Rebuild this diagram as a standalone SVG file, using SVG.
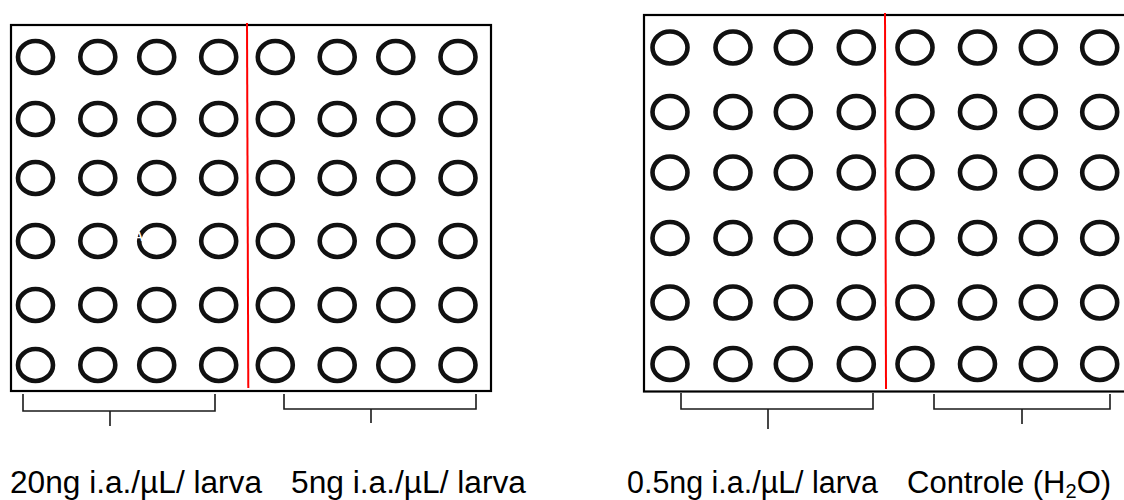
<svg xmlns="http://www.w3.org/2000/svg" xmlns:xlink="http://www.w3.org/1999/xlink" width="1124" height="500" viewBox="0 0 1124 500">
  <style>
    .plate { fill: #ffffff; stroke: #000000; stroke-width: 2.2; }
    .divider { stroke: #ff0000; stroke-width: 2; fill: none; }
    .well { fill: none; stroke: #111111; stroke-width: 4.6; }
    .bracket { fill: none; stroke: #1a1a1a; stroke-width: 1.6; }
    .label { font-family: "Liberation Sans", Arial, sans-serif; font-size: 31px; fill: #000000; }
  </style>
  <defs>
    <ellipse id="well" class="well" cx="0" cy="0" rx="17.5" ry="16"/>
  </defs>

  <rect width="1124" height="500" fill="#ffffff"/>

  <!-- Left plate: 20 ng | 5 ng -->
  <g id="plate-left">
    <rect class="plate" x="11" y="25" width="480" height="366"/>
    <g id="wells-left">
      <!-- row 1 -->
      <use xlink:href="#well" x="35.5" y="57"/><use xlink:href="#well" x="97.8" y="57"/><use xlink:href="#well" x="156.7" y="57"/><use xlink:href="#well" x="218.7" y="57"/>
      <use xlink:href="#well" x="275.3" y="57"/><use xlink:href="#well" x="337.2" y="57"/><use xlink:href="#well" x="395.8" y="57"/><use xlink:href="#well" x="458" y="57"/>
      <!-- row 2 -->
      <use xlink:href="#well" x="35.5" y="119"/><use xlink:href="#well" x="97.8" y="119"/><use xlink:href="#well" x="156.7" y="119"/><use xlink:href="#well" x="218.7" y="119"/>
      <use xlink:href="#well" x="275.3" y="119"/><use xlink:href="#well" x="337.2" y="119"/><use xlink:href="#well" x="395.8" y="119"/><use xlink:href="#well" x="458" y="119"/>
      <!-- row 3 -->
      <use xlink:href="#well" x="35.5" y="178"/><use xlink:href="#well" x="97.8" y="178"/><use xlink:href="#well" x="156.7" y="178"/><use xlink:href="#well" x="218.7" y="178"/>
      <use xlink:href="#well" x="275.3" y="178"/><use xlink:href="#well" x="337.2" y="178"/><use xlink:href="#well" x="395.8" y="178"/><use xlink:href="#well" x="458" y="178"/>
      <!-- row 4 -->
      <use xlink:href="#well" x="35.5" y="241"/><use xlink:href="#well" x="97.8" y="241"/><use xlink:href="#well" x="156.7" y="241"/><use xlink:href="#well" x="218.7" y="241"/>
      <use xlink:href="#well" x="275.3" y="241"/><use xlink:href="#well" x="337.2" y="241"/><use xlink:href="#well" x="395.8" y="241"/><use xlink:href="#well" x="458" y="241"/>
      <!-- row 5 -->
      <use xlink:href="#well" x="35.5" y="305"/><use xlink:href="#well" x="97.8" y="305"/><use xlink:href="#well" x="156.7" y="305"/><use xlink:href="#well" x="218.7" y="305"/>
      <use xlink:href="#well" x="275.3" y="305"/><use xlink:href="#well" x="337.2" y="305"/><use xlink:href="#well" x="395.8" y="305"/><use xlink:href="#well" x="458" y="305"/>
      <!-- row 6 -->
      <use xlink:href="#well" x="35.5" y="365"/><use xlink:href="#well" x="97.8" y="365"/><use xlink:href="#well" x="156.7" y="365"/><use xlink:href="#well" x="218.7" y="365"/>
      <use xlink:href="#well" x="275.3" y="365"/><use xlink:href="#well" x="337.2" y="365"/><use xlink:href="#well" x="395.8" y="365"/><use xlink:href="#well" x="458" y="365"/>
    </g>
    <text x="134" y="241" font-family="Liberation Sans, Arial, sans-serif" font-size="13" font-weight="bold" fill="#ffffff">A</text>
    <line class="divider" x1="247" y1="23" x2="248.3" y2="388"/>
  </g>

  <!-- Right plate: 0.5 ng | control -->
  <g id="plate-right">
    <rect class="plate" x="644" y="15" width="500" height="376.5"/>
    <g id="wells-right">
      <!-- row 1 -->
      <use xlink:href="#well" x="670" y="47.5"/><use xlink:href="#well" x="733" y="47.5"/><use xlink:href="#well" x="793.3" y="47.5"/><use xlink:href="#well" x="856.3" y="47.5"/>
      <use xlink:href="#well" x="915" y="47.5"/><use xlink:href="#well" x="977.5" y="47.5"/><use xlink:href="#well" x="1038.3" y="47.5"/><use xlink:href="#well" x="1099.7" y="47.5"/>
      <!-- row 2 -->
      <use xlink:href="#well" x="670" y="112"/><use xlink:href="#well" x="733" y="112"/><use xlink:href="#well" x="793.3" y="112"/><use xlink:href="#well" x="856.3" y="112"/>
      <use xlink:href="#well" x="915" y="112"/><use xlink:href="#well" x="977.5" y="112"/><use xlink:href="#well" x="1038.3" y="112"/><use xlink:href="#well" x="1099.7" y="112"/>
      <!-- row 3 -->
      <use xlink:href="#well" x="670" y="172.5"/><use xlink:href="#well" x="733" y="172.5"/><use xlink:href="#well" x="793.3" y="172.5"/><use xlink:href="#well" x="856.3" y="172.5"/>
      <use xlink:href="#well" x="915" y="172.5"/><use xlink:href="#well" x="977.5" y="172.5"/><use xlink:href="#well" x="1038.3" y="172.5"/><use xlink:href="#well" x="1099.7" y="172.5"/>
      <!-- row 4 -->
      <use xlink:href="#well" x="670" y="238"/><use xlink:href="#well" x="733" y="238"/><use xlink:href="#well" x="793.3" y="238"/><use xlink:href="#well" x="856.3" y="238"/>
      <use xlink:href="#well" x="915" y="238"/><use xlink:href="#well" x="977.5" y="238"/><use xlink:href="#well" x="1038.3" y="238"/><use xlink:href="#well" x="1099.7" y="238"/>
      <!-- row 5 -->
      <use xlink:href="#well" x="670" y="302.5"/><use xlink:href="#well" x="733" y="302.5"/><use xlink:href="#well" x="793.3" y="302.5"/><use xlink:href="#well" x="856.3" y="302.5"/>
      <use xlink:href="#well" x="915" y="302.5"/><use xlink:href="#well" x="977.5" y="302.5"/><use xlink:href="#well" x="1038.3" y="302.5"/><use xlink:href="#well" x="1099.7" y="302.5"/>
      <!-- row 6 -->
      <use xlink:href="#well" x="670" y="364"/><use xlink:href="#well" x="733" y="364"/><use xlink:href="#well" x="793.3" y="364"/><use xlink:href="#well" x="856.3" y="364"/>
      <use xlink:href="#well" x="915" y="364"/><use xlink:href="#well" x="977.5" y="364"/><use xlink:href="#well" x="1038.3" y="364"/><use xlink:href="#well" x="1099.7" y="364"/>
    </g>
    <line class="divider" x1="885" y1="13" x2="886" y2="389"/>
  </g>

  <!-- Group brackets under each half-plate -->
  <g id="connectors">
    <path class="bracket" d="M23 394 V411 H215 V394 M110 411 V426"/>
    <path class="bracket" d="M284 394 V409 H476 V394 M371 409 V423"/>
    <path class="bracket" d="M681 393 V409 H873 V393 M768 409 V429"/>
    <path class="bracket" d="M934 394 V409 H1110 V394 M1022 409 V424"/>
  </g>

  <!-- Treatment labels -->
  <g id="label-20ng"><text class="label" x="10" y="493" textLength="252" lengthAdjust="spacingAndGlyphs">20ng i.a./µL/ larva</text></g>
  <g id="label-5ng"><text class="label" x="291" y="493" textLength="235" lengthAdjust="spacingAndGlyphs">5ng i.a./µL/ larva</text></g>
  <g id="label-05ng"><text class="label" x="627" y="493" textLength="251" lengthAdjust="spacingAndGlyphs">0.5ng i.a./µL/ larva</text></g>
  <g id="label-control"><text class="label" x="907" y="493">Controle (H<tspan font-size="20" dy="5">2</tspan><tspan dy="-5">O)</tspan></text></g>
</svg>
